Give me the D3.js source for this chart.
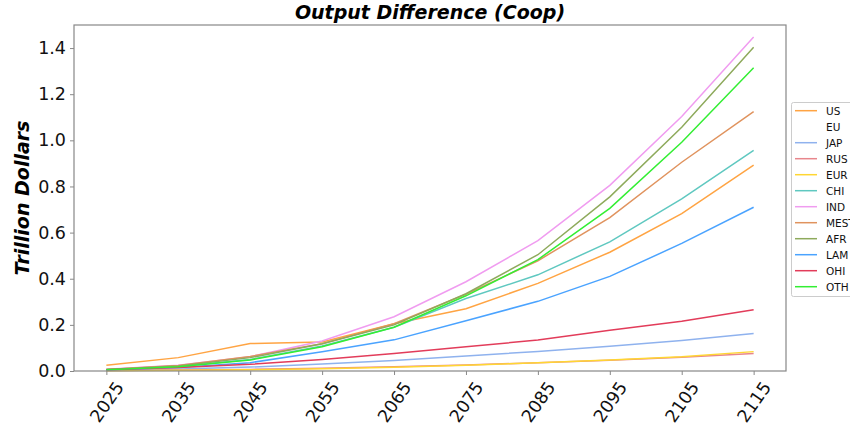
<!DOCTYPE html>
<html><head><meta charset="utf-8">
<script src="https://cdn.jsdelivr.net/npm/d3@7"></script>
<style>body{margin:0;background:#fff;} svg{display:block;}</style>
</head><body>
<svg id="c" width="850" height="431"></svg>
<script>
const years = [2025,2035,2045,2055,2065,2075,2085,2095,2105,2115];
const yTicks = [0.0,0.2,0.4,0.6,0.8,1.0,1.2,1.4];
const regions = ["US","EU","JAP","RUS","EUR","CHI","IND","MEST","AFR","LAM","OHI","OTH"];
const colors = ["#ffa443","#ffffff","#8fb2ee","#e8868c","#ffd633","#5fc8c0","#f09cf0","#e0935e","#8eaa5c","#4aa3ff","#e23c5a","#33ee33"];
const US   = [0.025,0.058,0.119,0.126,0.205,0.27,0.38,0.515,0.682,0.892];
const EU   = [0.001,0.002,0.004,0.006,0.009,0.013,0.018,0.024,0.031,0.04];
const JAP  = [0.003,0.009,0.017,0.03,0.045,0.065,0.085,0.107,0.132,0.163];
const RUS  = [0.002,0.004,0.007,0.012,0.018,0.026,0.036,0.047,0.06,0.076];
const EUR  = [0.001,0.003,0.005,0.01,0.016,0.025,0.036,0.048,0.062,0.084];
const CHI  = [0.006,0.02,0.05,0.108,0.19,0.314,0.417,0.56,0.746,0.956];
const IND  = [0.008,0.025,0.062,0.13,0.235,0.387,0.565,0.805,1.103,1.448];
const MEST = [0.007,0.024,0.063,0.118,0.205,0.333,0.478,0.665,0.905,1.124];
const AFR  = [0.006,0.022,0.058,0.118,0.2,0.335,0.504,0.755,1.057,1.404];
const LAM  = [0.004,0.015,0.036,0.083,0.135,0.218,0.302,0.41,0.553,0.71];
const OHI  = [0.005,0.015,0.029,0.05,0.076,0.105,0.134,0.177,0.216,0.266];
const OTH  = [0.005,0.018,0.048,0.105,0.19,0.326,0.483,0.705,0.992,1.315];
const seriesValues = [US,EU,JAP,RUS,EUR,CHI,IND,MEST,AFR,LAM,OHI,OTH];

const svg = d3.select("#c");
const L = 74, R = 786, T = 25, B = 371;
const x = d3.scaleLinear().domain([2020.5, 2119.5]).range([L, R]);
const y = d3.scaleLinear().domain([0, 1.5]).range([B, T]);
const font = "DejaVu Sans, sans-serif";
const axisCol = "#888";

// lines
const line = d3.line().x((d,i)=>x(years[i])).y(d=>y(d));
const g = svg.append("g");
seriesValues.forEach((vals, k) => {
  g.append("path").attr("d", line(vals)).attr("fill","none")
   .attr("stroke", colors[k]).attr("stroke-width", 1.5);
});

// frame
svg.append("rect").attr("x",L).attr("y",T).attr("width",R-L).attr("height",B-T)
  .attr("fill","none").attr("stroke",axisCol).attr("stroke-width",1.2);

// y axis
const ya = svg.append("g").attr("transform",`translate(${L},0)`)
  .call(d3.axisLeft(y).tickValues(yTicks).tickFormat(d3.format(".1f")).tickSize(4).tickPadding(4));
ya.select(".domain").remove();
ya.selectAll("line").attr("stroke",axisCol);
ya.selectAll("text").attr("font-family",font).attr("font-size",17.5).attr("fill","#111");

// x axis
const xa = svg.append("g").attr("transform",`translate(0,${B})`)
  .call(d3.axisBottom(x).tickValues(years).tickFormat(d3.format("d")).tickSize(4));
xa.select(".domain").remove();
xa.selectAll("line").attr("stroke",axisCol);
xa.selectAll("text").attr("font-family",font).attr("font-size",17.5).attr("fill","#111")
  .attr("y",null).attr("dy",null)
  .attr("text-anchor","middle").attr("dominant-baseline","central")
  .attr("transform","translate(0,31) rotate(-55)");

// title
svg.append("text").attr("x",(L+R)/2).attr("y",19).attr("text-anchor","middle")
  .attr("font-family",font).attr("font-size",19).attr("font-weight","bold").attr("font-style","italic")
  .attr("fill","#000").text("Output Difference (Coop)");

// y label
svg.append("text").attr("transform",`translate(22,${(T+B)/2}) rotate(-90)`)
  .attr("text-anchor","middle").attr("dominant-baseline","central")
  .attr("font-family",font).attr("font-size",19).attr("font-weight","bold").attr("font-style","italic")
  .attr("fill","#000").text("Trillion Dollars");

// legend
const lg = svg.append("g");
lg.append("rect").attr("x",791.5).attr("y",102.5).attr("width",70).attr("height",194)
  .attr("rx",2).attr("fill","#fff").attr("stroke","#ccc");
regions.forEach((r,k)=>{
  const yy = 110.7 + k*16;
  lg.append("line").attr("x1",795).attr("x2",817).attr("y1",yy).attr("y2",yy)
    .attr("stroke",colors[k]).attr("stroke-width",1.5);
  lg.append("text").attr("x",826).attr("y",yy).attr("dominant-baseline","central")
    .attr("font-family",font).attr("font-size",10.5).attr("fill","#111").text(r);
});
</script>
</body></html>
